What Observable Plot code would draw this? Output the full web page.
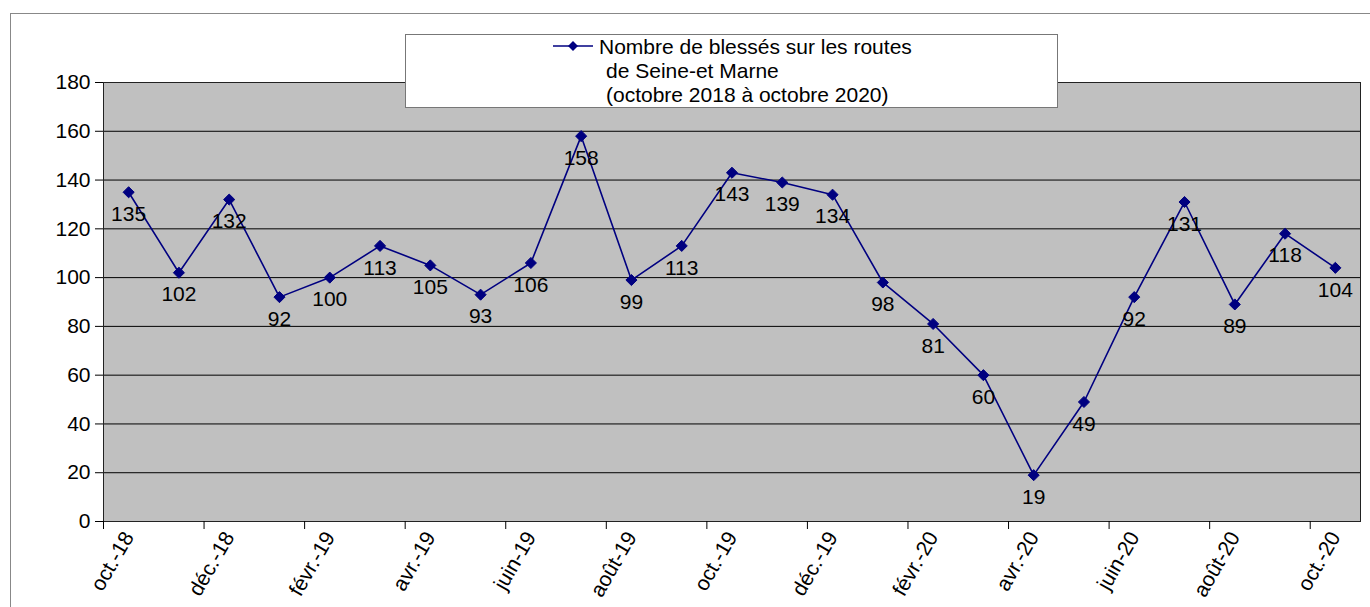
<!DOCTYPE html>
<html><head><meta charset="utf-8">
<script src="https://cdn.jsdelivr.net/npm/d3@7"></script>
<script src="https://cdn.jsdelivr.net/npm/@observablehq/plot@0.6"></script>
<style>
body{margin:0;background:#fff;font-family:"Liberation Sans",Arial,sans-serif;}
#wrap{position:relative;width:1370px;height:607px;overflow:hidden;}
#border{position:absolute;left:10px;top:13px;width:1400px;height:700px;border-left:1px solid #888;border-top:1px solid #888;}
#chart{position:absolute;left:0;top:0;}
#legend{position:absolute;left:405px;top:34px;width:651px;height:72px;background:#fff;border:1px solid #777;font-size:21px;color:#000;}
#legend span{position:absolute;white-space:pre;line-height:24px;}
#legend svg{position:absolute;left:146px;top:3px;}
</style></head><body>
<div id="wrap"><div id="border"></div><div id="chart"></div><div id="legend"></div></div>
<script>
const months = ["oct.-18","nov.-18","déc.-18","janv.-19","févr.-19","mars-19","avr.-19","mai-19","juin-19","juil.-19","août-19","sept.-19","oct.-19","nov.-19","déc.-19","janv.-20","févr.-20","mars-20","avr.-20","mai-20","juin-20","juil.-20","août-20","sept.-20","oct.-20"];
const injured = [135,102,132,92,100,113,105,93,106,158,99,113,143,139,134,98,81,60,19,49,92,131,89,118,104];
const yTicks = [0,20,40,60,80,100,120,140,160,180];
const legendLines = ["Nombre de blessés sur les routes","de Seine-et Marne","(octobre 2018 à octobre 2020)"];
const lineColor = "#000080";

const data = months.map((m, i) => ({i, m, v: injured[i]}));
const labelIdx = months.map((m, i) => i).filter(i => i % 2 === 0);
const tickBounds = labelIdx.map(i => i - 0.5);

const chart = Plot.plot({
  width: 1370, height: 607,
  marginLeft: 103, marginRight: 10, marginTop: 82, marginBottom: 86,
  style: {background: "transparent", fontFamily: "Liberation Sans, Arial, sans-serif", fontSize: "21px", color: "#000"},
  x: {type: "linear", domain: [-0.5, months.length - 0.5]},
  y: {domain: [0, 180]},
  marks: [
    Plot.frame({fill: "#c0c0c0"}),
    Plot.gridY(yTicks, {stroke: "#000", strokeOpacity: 1, strokeWidth: 1}),
    Plot.frame({stroke: "#222"}),
    Plot.axisY({ticks: yTicks, tickSize: 8, tickPadding: 5, label: null, fontSize: 21}),
    Plot.axisX({ticks: tickBounds, tickSize: 8, tickFormat: () => "", label: null}),
    Plot.axisX({ticks: labelIdx, tickSize: 0, tickPadding: 12, tickRotate: -60, tickFormat: i => months[i], label: null, fontSize: 21}),
    Plot.line(data, {x: "i", y: "v", stroke: lineColor, strokeWidth: 1.6}),
    Plot.dot(data, {x: "i", y: "v", symbol: "diamond2", r: 5, fill: lineColor, stroke: lineColor, strokeWidth: 1}),
    Plot.text(data, {x: "i", y: "v", text: "v", dy: 22, fontSize: 21, fill: "#000"})
  ]
});
document.getElementById("chart").appendChild(chart);

const leg = document.getElementById("legend");
const offs = [{l: 193, t: 0}, {l: 200, t: 24}, {l: 200, t: 48}];
legendLines.forEach((s, k) => {
  const sp = document.createElement("span");
  sp.textContent = s;
  sp.style.left = offs[k].l + "px";
  sp.style.top = offs[k].t + "px";
  leg.appendChild(sp);
});
const ls = d3.create("svg").attr("width", 44).attr("height", 16);
ls.append("line").attr("x1", 1).attr("x2", 41).attr("y1", 8).attr("y2", 8).attr("stroke", lineColor).attr("stroke-width", 1.6);
ls.append("path").attr("d", "M21,3L26,8L21,13L16,8Z").attr("fill", lineColor);
leg.appendChild(ls.node());
</script>
</body></html>
